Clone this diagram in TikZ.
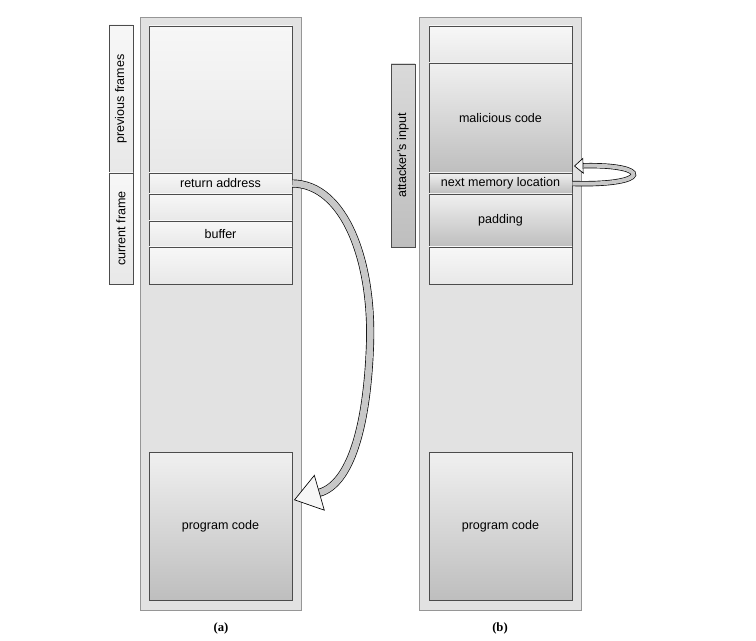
\documentclass[tikz,border=0pt]{standalone}
\usepackage{xcolor}
\usepackage{fontspec}
\setmainfont{Liberation Sans}
\newfontfamily\capfont{Liberation Serif}
\usepackage{tikz}
\usetikzlibrary{fit,shadows,arrows.meta}

\definecolor{colfill}{RGB}{226,226,226}
\definecolor{colline}{RGB}{150,150,150}
\definecolor{celltop}{RGB}{247,247,247}
\definecolor{cellbot}{RGB}{232,232,232}
\definecolor{graytop}{RGB}{240,240,240}
\definecolor{graybot}{RGB}{190,190,190}
\definecolor{arrowfill}{RGB}{200,200,200}

\tikzset{
  column/.style={fill=colfill, draw=colline, line width=0.6pt, inner sep=0pt,
    drop shadow={shadow xshift=1pt, shadow yshift=-1pt, opacity=0.3}},
  cell/.style={top color=celltop, bottom color=cellbot, draw=black!70,
    line width=0.5pt, inner sep=0pt},
  graycell/.style={cell, top color=graytop, bottom color=graybot},
  celltext/.style={inner sep=0pt, font=\fontsize{9.4}{11}\selectfont},
  sidebox/.style={cell, drop shadow={shadow xshift=1pt, shadow yshift=-1pt, opacity=0.3}},
  sidetext/.style={celltext, rotate=90},
  caption/.style={inner sep=0pt, font=\capfont\bfseries\fontsize{9.5}{11}\selectfont},
  bigarrow/.style={double=arrowfill, double distance=5pt, line width=0.5pt,
    -{Triangle[open, fill=celltop, length=20pt, width=28pt]}},
  smallarrow/.style={double=arrowfill, double distance=3pt, line width=0.5pt,
    -{Triangle[open, fill=celltop, length=7pt, width=12pt]}}
}

\begin{document}
\begin{tikzpicture}[x=0.75pt,y=0.75pt,yscale=-1,xscale=1]
	\useasboundingbox (0,0) rectangle (756,641);
	
	% stack (a)
	\node [column, fit={(140,17) (301,610)}] (cola) {};
	\node [cell, fit={(149,26) (292,173)}] (prev) {};
	\node [cell, fit={(149,173) (292,194)}, label={[celltext]center:return address}] (ret) {};
	\node [cell, fit={(149,194) (292,221)}] (gap) {};
	\node [cell, fit={(149,221) (292,247)}, label={[celltext]center:buffer}] (buf) {};
	\node [cell, fit={(149,247) (292,284)}] (below) {};
	\node [graycell, fit={(149,452) (292,600)}, label={[celltext]center:program code}] (codea) {};
	
	% frame labels
	\node [sidebox, fit={(109,25) (133,173)}, label={[sidetext]center:previous frames}] (prevbox) {};
	\node [sidebox, fit={(109,173) (133,284)}, label={[sidetext]center:current frame}] (curbox) {};
	
	% stack (b)
	\node [column, fit={(419,17) (581,610)}] (colb) {};
	\node [cell, fit={(429,26) (572,63)}] (top) {};
	\node [graycell, fit={(429,63) (572,173)}, label={[celltext]center:malicious code}] (mal) {};
	\node [graycell, fit={(429,173) (572,194)}, label={[celltext]center:next memory location}] (next) {};
	\node [graycell, fit={(429,194) (572,247)}, label={[celltext]center:padding}] (pad) {};
	\node [cell, fit={(429,247) (572,284)}] (rest) {};
	\node [graycell, fit={(429,452) (572,600)}, label={[celltext]center:program code}] (codeb) {};
	
	% input label
	\node [sidebox, top color=graytop!80!gray, bottom color=graybot, fit={(391,64) (415,247)},
	  label={[sidetext]center:attacker's input}] (inbox) {};
	
	% arrows
	\coordinate (tipa) at (294,500);
	\coordinate (tipb) at (574,166);
	\draw [bigarrow] (ret.east) .. controls (345,184) and (373,262) .. (370,345) .. controls (367,428) and (350,484) .. (tipa);
	\draw [smallarrow] (next.east) .. controls (652,186) and (652,164) .. (tipb);
	
	% captions
	\node [caption] (capa) at (221,628) {(a)};
	\node [caption] (capb) at (500,628) {(b)};
\end{tikzpicture}
\end{document}
